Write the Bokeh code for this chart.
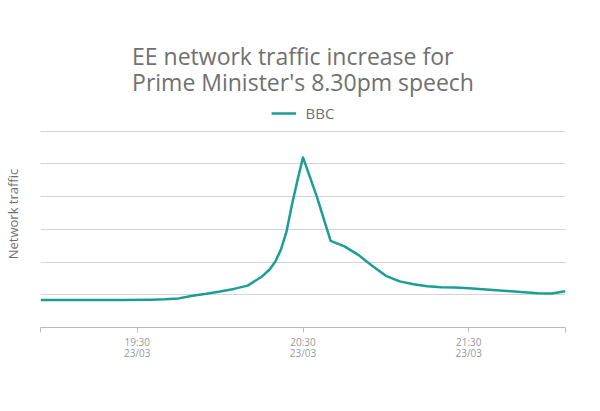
from bokeh.plotting import figure
from bokeh.models import Range1d, FixedTicker, Legend, LegendItem
from bokeh.embed import file_html
from bokeh.resources import INLINE

# time of day (23/03) and relative network traffic (no scale shown on the chart)
times = ["18:55", "19:10", "19:25", "19:35", "19:40", "19:45", "19:50", "19:55",
         "20:00", "20:05", "20:10", "20:15", "20:18", "20:20", "20:22", "20:24",
         "20:26", "20:28", "20:30", "20:35", "20:40", "20:45", "20:50", "20:55",
         "21:00", "21:05", "21:10", "21:15", "21:20", "21:25", "21:30", "21:40",
         "21:50", "21:55", "22:00", "22:05"]
traffic = [-0.16, -0.16, -0.16, -0.15, -0.14, -0.11, -0.03, 0.03,
           0.10, 0.18, 0.28, 0.55, 0.78, 1.02, 1.38, 1.92,
           2.75, 3.50, 4.20, 3.00, 1.65, 1.48, 1.22, 0.89,
           0.58, 0.41, 0.32, 0.26, 0.23, 0.22, 0.20, 0.14,
           0.08, 0.05, 0.04, 0.11]
tick_times = ["18:55", "19:30", "20:30", "21:30", "22:05"]
tick_labels = ["", "19:30\n23/03", "20:30\n23/03", "21:30\n23/03", ""]
grid_levels = [0, 1, 2, 3, 4, 5]


def minutes(t):
    h, m = t.split(":")
    return int(h) * 60 + int(m)


x = [minutes(t) for t in times]
ticks = [minutes(t) for t in tick_times]

TEAL = "#1a9e96"
GREY = "#707070"
FONT = "Open Sans"

# frame runs up past the top grid line so the legend can sit inside it
p = figure(width=584, height=395, output_backend="svg", toolbar_location=None,
           title="EE network traffic increase for\nPrime Minister's 8.30pm speech",
           min_border_left=39, min_border_right=19,
           min_border_bottom=68, min_border_top=100,
           x_range=Range1d(ticks[0], ticks[-1]), y_range=Range1d(-1, 5.94))
p.outline_line_color = None
p.title.align = "center"
p.title.text_font = FONT
p.title.text_font_size = "23px"
p.title.text_font_style = "normal"
p.title.text_color = GREY
p.title.text_line_height = 0.84
p.title.standoff = 4

r = p.line(x, traffic, line_color=TEAL, line_width=2.5, line_join="round")

legend = Legend(items=[LegendItem(label="BBC", renderers=[r])],
                location="top_center", orientation="horizontal",
                border_line_color=None, background_fill_alpha=0,
                label_text_font=FONT, label_text_font_size="15px",
                label_text_color=GREY, glyph_width=25, label_standoff=10,
                padding=0, margin=3)
p.add_layout(legend, "center")

p.xaxis.ticker = FixedTicker(ticks=ticks)
p.xaxis.major_label_overrides = dict(zip(ticks, tick_labels))
p.xaxis.axis_line_color = "#bbbbbb"
p.xaxis.major_tick_line_color = "#bbbbbb"
p.xaxis.major_tick_in = 0
p.xaxis.major_tick_out = 5
p.xaxis.minor_tick_line_color = None
p.xaxis.major_label_text_font = FONT
p.xaxis.major_label_text_font_size = "10px"
p.xaxis.major_label_text_color = "#999999"
p.xaxis.major_label_text_line_height = 0.85
p.xaxis.major_label_standoff = 2

p.yaxis.ticker = FixedTicker(ticks=[])
p.yaxis.major_tick_line_color = None
p.yaxis.minor_tick_line_color = None
p.yaxis.axis_line_color = None
p.yaxis.axis_label = "Network traffic"
p.yaxis.axis_label_text_font = FONT
p.yaxis.axis_label_text_font_size = "13px"
p.yaxis.axis_label_text_font_style = "normal"
p.yaxis.axis_label_text_color = GREY
p.yaxis.axis_label_standoff = 19

p.xgrid.visible = False
p.ygrid.ticker = FixedTicker(ticks=grid_levels)
p.ygrid.grid_line_color = "#d4d4d4"

open("out.html", "w").write(file_html(p, INLINE))
